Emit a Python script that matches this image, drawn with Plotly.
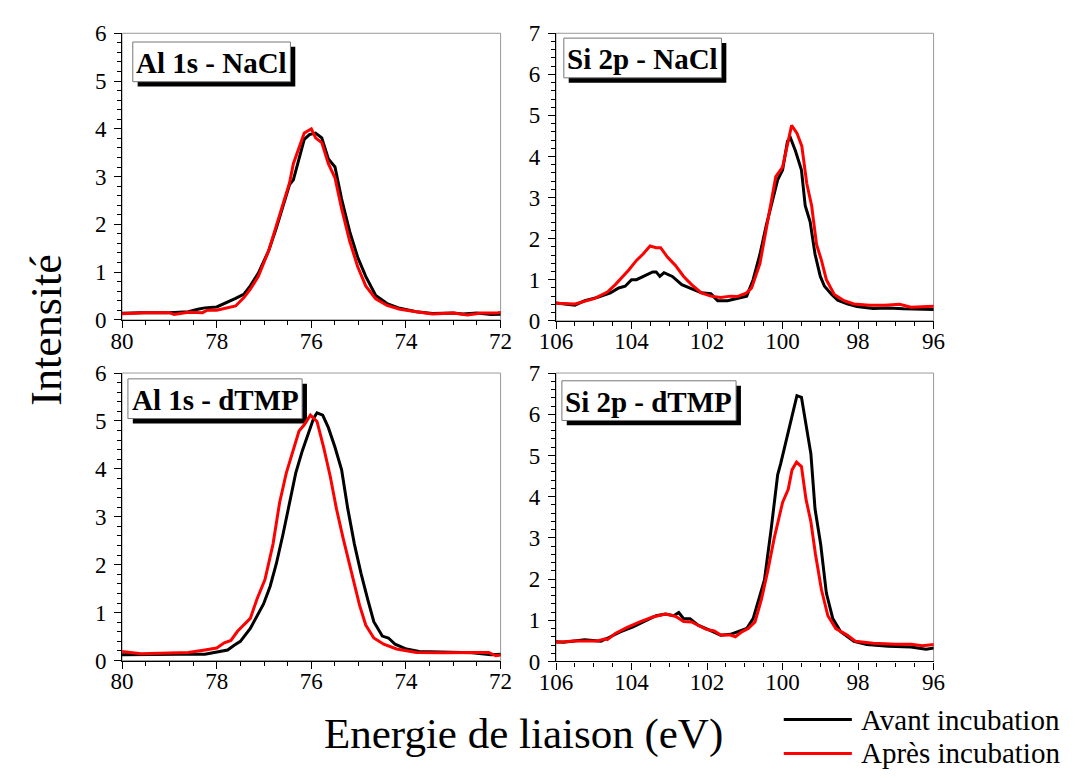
import plotly.graph_objects as go

# ---------------- data ----------------
al_nacl_avant_x = [80.15, 79.6, 79.0, 78.6, 78.4, 78.25, 78.0, 77.77, 77.6, 77.42, 77.29, 77.12, 76.9, 76.74,
                   76.57, 76.46, 76.38, 76.26, 76.15, 76.04, 75.91, 75.78, 75.64, 75.5, 75.36, 75.19, 75.02,
                   74.85, 74.64, 74.4, 74.13, 73.78, 73.44, 73.0, 72.8, 72.5, 72.2, 71.85]
al_nacl_avant_y = [0.13, 0.15, 0.15, 0.17, 0.22, 0.25, 0.27, 0.37, 0.45, 0.54, 0.71, 0.98, 1.45, 1.92,
                   2.46, 2.83, 2.93, 3.4, 3.78, 3.88, 3.91, 3.81, 3.37, 3.2, 2.53, 1.85, 1.31,
                   0.91, 0.51, 0.34, 0.24, 0.17, 0.13, 0.14, 0.12, 0.14, 0.11, 0.12]
al_nacl_apres_x = [80.15, 79.5, 79.0, 78.9, 78.6, 78.3, 78.2, 78.0, 77.6, 77.42, 77.29, 77.12, 76.9, 76.74,
                   76.57, 76.46, 76.38, 76.26, 76.15, 76.0, 75.91, 75.78, 75.64, 75.5, 75.36, 75.19, 75.02,
                   74.85, 74.64, 74.4, 74.13, 73.78, 73.44, 73.0, 72.7, 72.4, 72.1, 71.85]
al_nacl_apres_y = [0.12, 0.15, 0.15, 0.11, 0.16, 0.15, 0.2, 0.2, 0.29, 0.47, 0.64, 0.91, 1.45, 1.95,
                   2.5, 2.87, 3.27, 3.6, 3.91, 4.0, 3.81, 3.71, 3.27, 2.97, 2.33, 1.65, 1.11,
                   0.71, 0.44, 0.3, 0.22, 0.17, 0.12, 0.14, 0.1, 0.14, 0.14, 0.18]

si_nacl_avant_x = [106.15, 105.76, 105.5, 105.24, 104.9, 104.56, 104.34, 104.17, 104.0, 103.87, 103.61,
                   103.44, 103.35, 103.25, 103.14, 102.92, 102.67, 102.41, 102.15, 101.9, 101.72, 101.46,
                   101.2, 100.95, 100.78, 100.6, 100.43, 100.26, 100.13, 100.0, 99.87, 99.79, 99.66, 99.5,
                   99.4, 99.27, 99.14, 99.0, 98.89, 98.7, 98.54, 98.29, 98.03, 97.6, 97.2, 96.8, 96.4, 95.85]
si_nacl_avant_y = [0.45, 0.41, 0.38, 0.49, 0.57, 0.68, 0.8, 0.84, 1.0, 1.0, 1.11,
                   1.19, 1.19, 1.08, 1.17, 1.08, 0.88, 0.78, 0.68, 0.66, 0.49, 0.49,
                   0.54, 0.6, 1.0, 1.62, 2.33, 2.96, 3.43, 3.67, 4.37, 4.45, 4.14, 3.67,
                   2.8, 2.41, 1.62, 1.08, 0.84, 0.64, 0.5, 0.41, 0.35, 0.3, 0.31, 0.29, 0.29, 0.27]
si_nacl_apres_x = [106.15, 105.5, 104.99, 104.64, 104.43, 104.26, 104.08, 103.87, 103.7, 103.51, 103.35,
                   103.23, 103.05, 102.84, 102.62, 102.41, 102.15, 101.9, 101.64, 101.38, 101.2, 100.95,
                   100.82, 100.6, 100.39, 100.18, 100.0, 99.87, 99.76, 99.62, 99.49, 99.36, 99.23, 99.1,
                   98.97, 98.84, 98.63, 98.37, 98.11, 97.7, 97.3, 96.9, 96.6, 96.3, 95.85]
si_nacl_apres_y = [0.43, 0.41, 0.54, 0.7, 0.88, 1.04, 1.23, 1.47, 1.62, 1.82, 1.78,
                   1.78, 1.55, 1.35, 1.08, 0.88, 0.68, 0.6, 0.57, 0.6, 0.59, 0.68,
                   0.8, 1.39, 2.41, 3.51, 3.74, 4.29, 4.76, 4.57, 4.25, 3.35, 2.8, 1.86,
                   1.47, 1.0, 0.64, 0.49, 0.41, 0.38, 0.38, 0.4, 0.33, 0.34, 0.36]

al_dtmp_avant_x = [80.15, 79.5, 78.8, 78.25, 78.0, 77.77, 77.63, 77.5, 77.29, 77.15, 77.01, 76.87, 76.74,
                   76.6, 76.46, 76.33, 76.19, 76.05, 75.95, 75.88, 75.76, 75.64, 75.5, 75.36, 75.23, 75.09,
                   74.95, 74.81, 74.68, 74.5, 74.37, 74.23, 73.99, 73.72, 73.2, 72.6, 72.2, 71.85]
al_dtmp_avant_y = [0.12, 0.13, 0.13, 0.13, 0.17, 0.22, 0.32, 0.4, 0.67, 0.91, 1.18, 1.55, 2.02,
                   2.63, 3.3, 3.91, 4.38, 4.79, 5.06, 5.17, 5.12, 4.86, 4.45, 3.98, 3.17, 2.43,
                   1.82, 1.28, 0.81, 0.51, 0.47, 0.34, 0.24, 0.19, 0.17, 0.16, 0.12, 0.14]
al_dtmp_apres_x = [80.15, 80.0, 79.6, 79.0, 78.6, 78.25, 78.0, 77.84, 77.7, 77.56, 77.42, 77.29, 77.15,
                   76.98, 76.81, 76.67, 76.53, 76.39, 76.26, 76.15, 76.02, 75.88, 75.74, 75.6, 75.47, 75.33,
                   75.16, 74.98, 74.85, 74.68, 74.47, 74.2, 73.78, 73.2, 72.6, 72.25, 72.1, 71.85]
al_dtmp_apres_y = [0.14, 0.19, 0.14, 0.15, 0.17, 0.22, 0.26, 0.37, 0.42, 0.61, 0.74, 0.88, 1.28,
                   1.69, 2.43, 3.3, 3.91, 4.38, 4.79, 4.92, 5.12, 4.99, 4.45, 3.84, 3.17, 2.56,
                   1.89, 1.15, 0.74, 0.47, 0.34, 0.24, 0.17, 0.16, 0.17, 0.17, 0.1, 0.14]

si_dtmp_avant_x = [106.15, 105.8, 105.24, 104.81, 104.56, 104.3, 103.96, 103.61, 103.35, 103.1, 102.88,
                   102.75, 102.62, 102.45, 102.24, 101.98, 101.64, 101.38, 101.21, 100.95, 100.78, 100.6,
                   100.48, 100.3, 100.13, 100.05, 99.87, 99.75, 99.62, 99.5, 99.38, 99.25, 99.14, 98.99,
                   98.84, 98.67, 98.46, 98.11, 97.77, 97.2, 96.6, 96.2, 95.85]
si_dtmp_avant_y = [0.49, 0.47, 0.53, 0.49, 0.6, 0.72, 0.84, 1.0, 1.11, 1.15, 1.11,
                   1.19, 1.04, 1.04, 0.88, 0.78, 0.64, 0.66, 0.72, 0.8, 1.04, 1.59,
                   1.98, 3.23, 4.53, 4.8, 5.51, 5.98, 6.45, 6.41, 5.75, 5.04, 3.7, 2.84,
                   1.66, 1.04, 0.72, 0.49, 0.41, 0.37, 0.35, 0.3, 0.35]
si_dtmp_apres_x = [106.15, 106.0, 105.5, 104.9, 104.7, 104.64, 104.43, 104.13, 103.78, 103.44, 103.1,
                   102.84, 102.62, 102.41, 102.24, 102.02, 101.81, 101.64, 101.38, 101.25, 101.08, 100.91,
                   100.73, 100.56, 100.39, 100.22, 100.0, 99.85, 99.75, 99.63, 99.5, 99.38, 99.25, 99.13,
                   98.97, 98.8, 98.59, 98.29, 98.07, 97.6, 97.0, 96.6, 96.3, 95.85]
si_dtmp_apres_y = [0.55, 0.47, 0.5, 0.5, 0.55, 0.53, 0.68, 0.82, 0.96, 1.08, 1.15,
                   1.1, 0.97, 0.96, 0.88, 0.78, 0.74, 0.64, 0.64, 0.6, 0.72, 0.8,
                   0.96, 1.51, 2.21, 3.0, 3.86, 4.18, 4.65, 4.84, 4.73, 3.94, 3.39, 2.61,
                   1.74, 1.11, 0.8, 0.64, 0.49, 0.44, 0.42, 0.42, 0.38, 0.43]

panel_titles = ["Al 1s - NaCl", "Si 2p - NaCl", "Al 1s - dTMP", "Si 2p - dTMP"]
series_names = ["Avant incubation", "Après incubation"]
x_title = "Energie de liaison (eV)"
y_title = "Intensité"

W, H = 1075, 780
BLACK = "#000000"
RED = "#ff0000"
FONT = "Liberation Serif"


def px(x):
    return x / W


def py(y):
    return 1 - y / H


fig = go.Figure()

panels = [
    ("", [al_nacl_avant_x, al_nacl_apres_x], [al_nacl_avant_y, al_nacl_apres_y]),
    ("2", [si_nacl_avant_x, si_nacl_apres_x], [si_nacl_avant_y, si_nacl_apres_y]),
    ("3", [al_dtmp_avant_x, al_dtmp_apres_x], [al_dtmp_avant_y, al_dtmp_apres_y]),
    ("4", [si_dtmp_avant_x, si_dtmp_apres_x], [si_dtmp_avant_y, si_dtmp_apres_y]),
]
for suf, xs, ys in panels:
    for k, col in enumerate([BLACK, RED]):
        fig.add_trace(go.Scatter(x=xs[k], y=ys[k], mode="lines", name=series_names[k],
                                 line=dict(color=col, width=3), showlegend=False,
                                 xaxis="x" + suf, yaxis="y" + suf))

# plot area pixel boxes: (left, right, top, bottom)
boxes = [(108, 497, 22, 318), (554, 942, 22, 319), (108, 497, 373, 670), (554, 942, 373, 671)]
xranges = [[80, 72], [106, 96], [80, 72], [106, 96]]
yranges = [[0, 6], [0, 7], [0, 6], [0, 7]]

tickfont = dict(family=FONT, size=23, color=BLACK)
layout = {}
for i, (l, r, t, b) in enumerate(boxes):
    suf = "" if i == 0 else str(i + 1)
    layout["xaxis" + suf] = dict(
        domain=[px(l), px(r)], range=xranges[i], anchor="y" + suf,
        showline=True, linecolor=BLACK, linewidth=1.2, mirror=False, showgrid=False, zeroline=False,
        ticks="outside", ticklen=7, tickwidth=1, tickcolor=BLACK, dtick=2, tickfont=tickfont,
        ticklabelstandoff=-7,
        minor=dict(dtick=0.5, ticks="outside", ticklen=4, tickwidth=1, tickcolor=BLACK, showgrid=False),
    )
    layout["yaxis" + suf] = dict(
        domain=[py(b), py(t)], range=yranges[i], anchor="x" + suf,
        showline=True, linecolor=BLACK, linewidth=1.2, mirror=False, showgrid=False, zeroline=False,
        ticks="outside", ticklen=7, tickwidth=1, tickcolor=BLACK, dtick=1, tickfont=tickfont,
        ticklabelstandoff=3,
        minor=dict(dtick=0.2, ticks="outside", ticklen=4, tickwidth=1, tickcolor=BLACK, showgrid=False),
    )

shapes = []
annotations = []
for i in range(4):
    suf = "" if i == 0 else str(i + 1)
    shapes.append(dict(type="rect", xref="x" + suf + " domain", yref="y" + suf + " domain",
                       x0=0, x1=1, y0=0, y1=1, line=dict(color="#9a9a9a", width=1), layer="below"))

label_boxes = [(119, 281, 31, 72), (562, 724, 27, 68), (114, 293, 379, 420), (560, 739, 381, 422)]
for (x0, x1, y0, y1), txt in zip(label_boxes, panel_titles):
    shapes.append(dict(type="rect", xref="paper", yref="paper",
                       x0=px(x0 + 5), x1=px(x1 + 5), y0=py(y1 + 5), y1=py(y0 + 5),
                       fillcolor=BLACK, line=dict(width=0), layer="below"))
    shapes.append(dict(type="rect", xref="paper", yref="paper",
                       x0=px(x0), x1=px(x1), y0=py(y1), y1=py(y0),
                       fillcolor="white", line=dict(color="#777777", width=1), layer="below"))
    annotations.append(dict(xref="paper", yref="paper", x=px((x0 + x1) / 2), y=py((y0 + y1) / 2 + 1),
                            text="<b>" + txt + "</b>", showarrow=False, xanchor="center", yanchor="middle",
                            font=dict(family=FONT, size=29, color=BLACK)))

annotations.append(dict(xref="paper", yref="paper", x=px(521), y=py(746), text=x_title, showarrow=False,
                        xanchor="center", yanchor="middle", font=dict(family=FONT, size=43, color=BLACK)))
annotations.append(dict(xref="paper", yref="paper", x=px(30), y=py(328), text=y_title, showarrow=False,
                        textangle=-90, xanchor="center", yanchor="middle",
                        font=dict(family=FONT, size=44, color=BLACK)))

for (ly, col, name) in [(731, BLACK, series_names[0]), (766, RED, series_names[1])]:
    shapes.append(dict(type="line", xref="paper", yref="paper", x0=px(788), x1=px(858), y0=py(ly), y1=py(ly),
                       line=dict(color=col, width=3)))
    annotations.append(dict(xref="paper", yref="paper", x=px(865), y=py(ly), text=name, showarrow=False,
                            xanchor="left", yanchor="middle", font=dict(family=FONT, size=29, color=BLACK)))

fig.update_layout(
    width=W, height=H, margin=dict(l=0, r=0, t=0, b=0),
    paper_bgcolor="white", plot_bgcolor="white",
    shapes=shapes, annotations=annotations, showlegend=False,
    **layout,
)

fig.write_html("out.html", config={"displayModeBar": False},
               post_script="document.body.style.margin='0';")
